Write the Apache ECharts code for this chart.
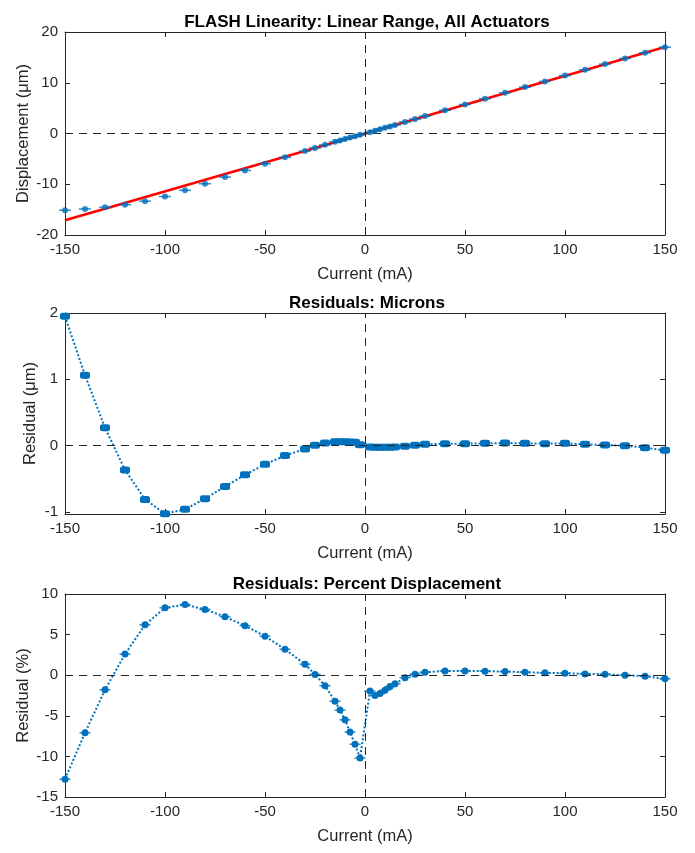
<!DOCTYPE html>
<html>
<head>
<meta charset="utf-8">
<script src="https://cdn.jsdelivr.net/npm/echarts@6/dist/echarts.min.js"></script>
<style>
  html, body { margin: 0; padding: 0; background: #fff; }
  #chart { width: 695px; height: 853px; }
</style>
</head>
<body>
<div id="chart"></div>
<script>
// drive current (mA)
var current = [-150, -140, -130, -120, -110, -100, -90, -80, -70, -60, -50, -40, -30, -25, -20, -15, -12.5, -10, -7.5, -5, -2.5,
               2.5, 5, 7.5, 10, 12.5, 15, 20, 25, 30, 40, 50, 60, 70, 80, 90, 100, 110, 120, 130, 140, 150];
// measured displacement (um)
var displacement = [-15.12, -14.87, -14.52, -14.02, -13.33, -12.41, -11.20, -9.90, -8.58, -7.27, -5.97, -4.70, -3.46, -2.84, -2.24, -1.65, -1.36, -1.08, -0.80, -0.52, -0.27,
                    0.26, 0.54, 0.83, 1.11, 1.40, 1.69, 2.27, 2.85, 3.43, 4.58, 5.72, 6.86, 8.01, 9.14, 10.27, 11.42, 12.54, 13.67, 14.79, 15.90, 17.00];
// linear fit end points
var fitX = [-150, 150];
var fitY = [-17.1, 17.05];
// residuals (um)
var residualUm = [1.95, 1.06, 0.27, -0.365, -0.81, -1.025, -0.96, -0.80, -0.615, -0.44, -0.28, -0.15, -0.05, 0.005, 0.04, 0.06, 0.06, 0.06, 0.055, 0.05, 0.015,
                  -0.02, -0.025, -0.025, -0.025, -0.025, -0.02, -0.01, 0.005, 0.02, 0.03, 0.03, 0.035, 0.04, 0.035, 0.03, 0.035, 0.02, 0.01, 0, -0.03, -0.07];
// residuals (%)
var residualPct = [-12.8, -7.1, -1.8, 2.6, 6.2, 8.3, 8.7, 8.1, 7.2, 6.1, 4.8, 3.2, 1.35, 0.1, -1.3, -3.2, -4.3, -5.5, -7.0, -8.5, -10.2,
                   -1.95, -2.5, -2.25, -1.85, -1.4, -1.05, -0.3, 0.12, 0.37, 0.53, 0.53, 0.5, 0.45, 0.37, 0.29, 0.25, 0.16, 0.12, 0, -0.12, -0.45];
var residualUmTicks = [-1, 0, 1, 2];

var titles = ['FLASH Linearity: Linear Range, All Actuators', 'Residuals: Microns', 'Residuals: Percent Displacement'];
var yNames = ['Displacement (\u03bcm)', 'Residual (\u03bcm)', 'Residual (%)'];

var FONT = 'Liberation Sans';
var AX = '#262626';
var BLUE = '#0072BD';

function pairs(xs, ys) {
    return xs.map(function (x, i) { return [x, ys[i]]; });
}

var grids = [
    { left: 65, right: 30, top: 32, height: 203 },
    { left: 65, right: 30, top: 313, height: 201 },
    { left: 65, right: 30, top: 594, height: 203 }
];
var yRanges = [
    { min: -20, max: 20, interval: 10, gap: 33 },
    { min: -1.03, max: 2, gap: 26 },
    { min: -15, max: 10, interval: 5, gap: 33 }
];

var xAxes = [], yAxes = [];
grids.forEach(function (g, i) {
    ['bottom', 'top'].forEach(function (pos) {
        xAxes.push({
            type: 'value', gridIndex: i, position: pos,
            min: -150, max: 150, interval: 50,
            name: pos === 'bottom' ? 'Current (mA)' : '',
            nameLocation: 'middle', nameGap: 31, nameMoveOverlap: false,
            nameTextStyle: { color: AX, fontSize: 16.5, fontFamily: FONT },
            axisLine: { show: true, onZero: false, lineStyle: { color: AX, width: 1 } },
            axisTick: { show: true, inside: true, length: 5, lineStyle: { color: AX } },
            axisLabel: { show: pos === 'bottom', color: AX, fontSize: 15, fontFamily: FONT, margin: 7 },
            splitLine: { show: false }
        });
    });
    ['left', 'right'].forEach(function (pos) {
        var r = yRanges[i];
        var ax = {
            type: 'value', gridIndex: i, position: pos,
            min: r.min, max: r.max,
            name: pos === 'left' ? yNames[i] : '',
            nameLocation: 'middle', nameGap: r.gap, nameRotate: 90, nameMoveOverlap: false,
            nameTextStyle: { color: AX, fontSize: 16.5, fontFamily: FONT },
            axisLine: { show: true, onZero: false, lineStyle: { color: AX, width: 1 } },
            axisTick: { show: true, inside: true, length: 5, lineStyle: { color: AX } },
            axisLabel: { show: pos === 'left', color: AX, fontSize: 15, fontFamily: FONT, margin: 7 },
            splitLine: { show: false }
        };
        if (r.interval) {
            ax.interval = r.interval;
        } else {
            ax.axisLabel.customValues = residualUmTicks;
            ax.axisTick.customValues = residualUmTicks;
        }
        yAxes.push(ax);
    });
});

function zeroLines() {
    return {
        silent: true, symbol: 'none', animation: false,
        label: { show: false },
        lineStyle: { color: AX, type: [8, 6], width: 1 },
        data: [{ xAxis: 0 }, { yAxis: 0 }]
    };
}

var option = {
    animation: false,
    backgroundColor: '#fff',
    title: titles.map(function (t, i) {
        return {
            text: t, left: 362, textAlign: 'center', top: grids[i].top - 23,
            textStyle: { fontSize: 17, fontWeight: 'bold', color: '#000', fontFamily: FONT }
        };
    }),
    grid: grids,
    xAxis: xAxes,
    yAxis: yAxes,
    series: [
        // top: zero lines, fit, data
        {
            type: 'line', xAxisIndex: 0, yAxisIndex: 0, data: [], markLine: zeroLines()
        },
        {
            name: 'fit', type: 'line', xAxisIndex: 0, yAxisIndex: 0, z: 3,
            data: pairs(fitX, fitY), showSymbol: false,
            lineStyle: { color: '#FF0000', width: 2.5 }
        },
        {
            type: 'scatter', xAxisIndex: 0, yAxisIndex: 0, z: 4,
            data: pairs(current, displacement),
            symbol: 'rect', symbolSize: [12, 1.5],
            itemStyle: { color: BLUE }
        },
        {
            type: 'scatter', xAxisIndex: 0, yAxisIndex: 0, z: 5,
            data: pairs(current, displacement),
            symbol: 'circle', symbolSize: 6,
            itemStyle: { color: BLUE }
        },
        // middle: residuals in microns
        {
            type: 'line', xAxisIndex: 2, yAxisIndex: 2, z: 4,
            data: pairs(current, residualUm),
            symbol: 'roundRect', symbolSize: [10, 7], showAllSymbol: true,
            lineStyle: { color: BLUE, width: 2, type: 'dotted' },
            itemStyle: { color: BLUE },
            markLine: zeroLines()
        },
        // bottom: residuals in percent
        {
            type: 'line', xAxisIndex: 4, yAxisIndex: 4, z: 4,
            data: pairs(current, residualPct),
            symbol: 'circle', symbolSize: 7, showAllSymbol: true,
            lineStyle: { color: BLUE, width: 2, type: 'dotted' },
            itemStyle: { color: BLUE },
            markLine: zeroLines()
        },
        {
            type: 'scatter', xAxisIndex: 4, yAxisIndex: 4, z: 3,
            data: pairs(current, residualPct),
            symbol: 'rect', symbolSize: [11, 1.5],
            itemStyle: { color: BLUE }
        }
    ]
};

var myChart = echarts.init(document.getElementById('chart'));
myChart.setOption(option);
</script>
</body>
</html>
